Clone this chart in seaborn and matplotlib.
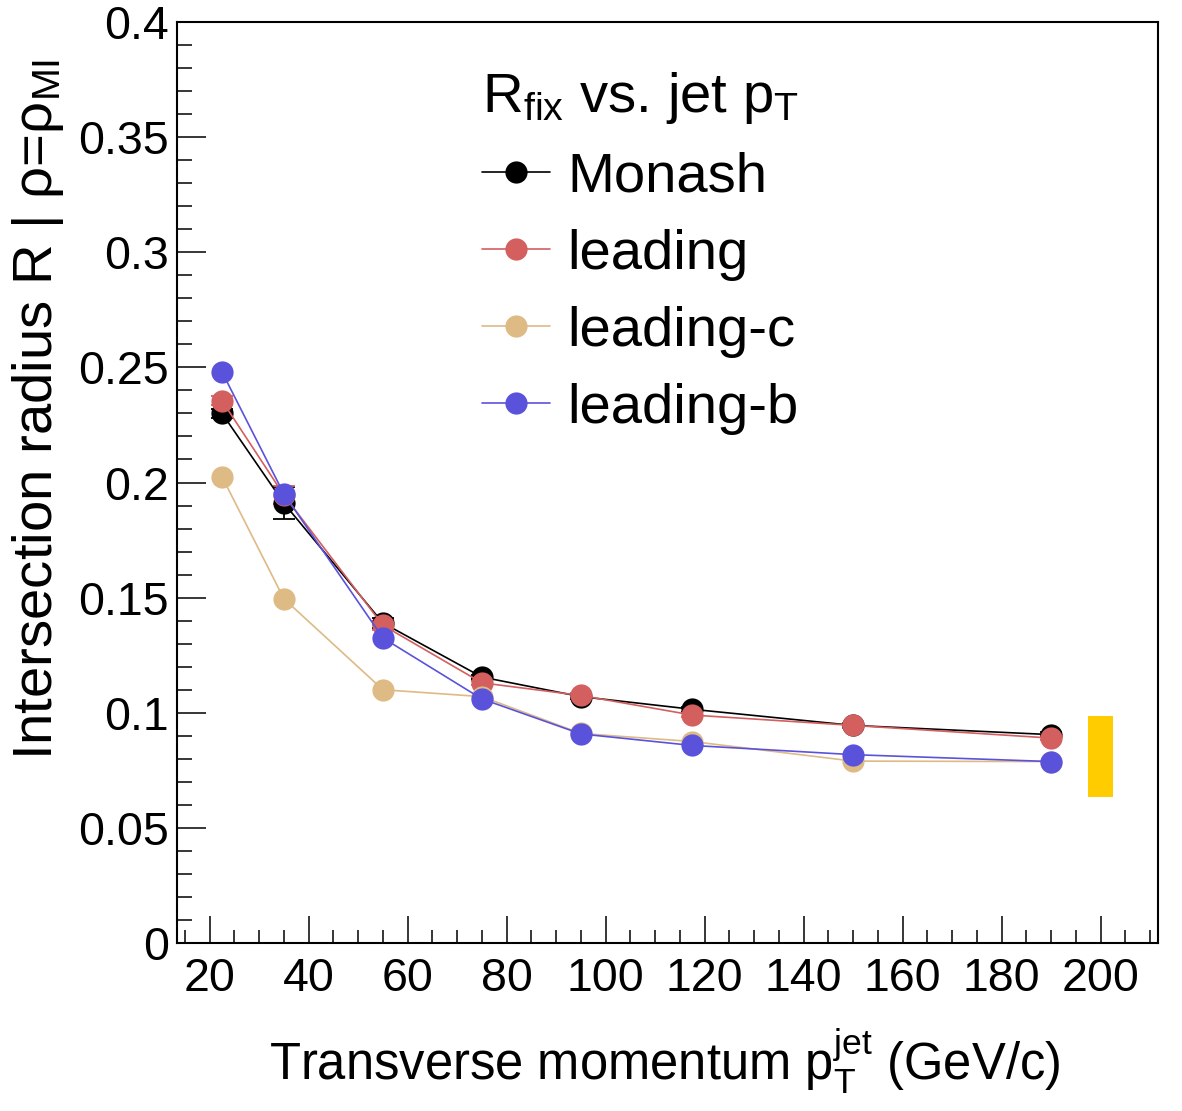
import numpy as np
import pandas as pd
import seaborn as sns
import matplotlib.pyplot as plt
from matplotlib.ticker import MultipleLocator, FuncFormatter

# jet pT bin centres (GeV/c)
pt = [22.5, 35, 55, 75, 95, 117.5, 150, 190]

r_monash = [0.230, 0.191, 0.139, 0.1155, 0.107, 0.1015, 0.0945, 0.0905]
r_leading = [0.2355, 0.1945, 0.138, 0.113, 0.1075, 0.099, 0.0945, 0.089]
r_leading_c = [0.2025, 0.1495, 0.110, 0.107, 0.091, 0.0875, 0.079, 0.0788]
r_leading_b = [0.248, 0.195, 0.1325, 0.106, 0.0908, 0.0858, 0.0818, 0.0788]

err_monash = [0.002, 0.007, 0.002, 0.001, 0.001, 0.001, 0.001, 0.001]
err_leading = [0.002, 0.004, 0.002, 0.001, 0.001, 0.001, 0.001, 0.001]

series = ["Monash", "leading", "leading-c", "leading-b"]
colors = ["#000000", "#D35F5F", "#DEBA85", "#5B52DC"]

# systematic band drawn at the right edge
sys_x = 200
sys_low = 0.0634
sys_high = 0.0986

df = pd.DataFrame({
    "pt": pt * 4,
    "R": r_monash + r_leading + r_leading_c + r_leading_b,
    "tune": sum([[s] * len(pt) for s in series], []),
})

sns.set_theme(style="ticks")
plt.rcParams["font.family"] = ["Liberation Sans", "DejaVu Sans"]
plt.rcParams["mathtext.fontset"] = "custom"
plt.rcParams["mathtext.rm"] = "Liberation Sans"
plt.rcParams["mathtext.it"] = "Liberation Sans:italic"
plt.rcParams["mathtext.bf"] = "Liberation Sans:bold"
plt.rcParams["text.color"] = "black"
plt.rcParams["axes.labelcolor"] = "black"

fig = plt.figure(figsize=(11.82, 11.11), dpi=100)
ax = fig.add_axes([177 / 1182, 1 - 943 / 1111, 981 / 1182, 921 / 1111])

ax.bar(sys_x, sys_high - sys_low, bottom=sys_low, width=5,
       color="#FFCC00", linewidth=0, zorder=1)

ax.errorbar(pt, r_monash, yerr=err_monash, fmt="none", ecolor="black",
            elinewidth=1.3, capsize=8, capthick=1.3, zorder=2)
ax.errorbar(pt, r_leading, yerr=err_leading, fmt="none", ecolor=colors[1],
            elinewidth=1.3, capsize=8, capthick=1.3, zorder=2)

sns.lineplot(data=df, x="pt", y="R", hue="tune", hue_order=series,
             palette=colors, marker="o", markersize=16, markeredgewidth=0,
             linewidth=1.2, ax=ax, zorder=3)

ax.set_xlim(13.4, 211.6)
ax.set_ylim(0, 0.4)

ax.xaxis.set_major_locator(MultipleLocator(20))
ax.xaxis.set_minor_locator(MultipleLocator(5))
ax.yaxis.set_major_locator(MultipleLocator(0.05))
ax.yaxis.set_minor_locator(MultipleLocator(0.01))
ax.yaxis.set_major_formatter(FuncFormatter(lambda v, p: "%g" % round(v, 3)))

ax.tick_params(axis="both", which="both", direction="in", top=False,
               right=False, width=1.1, colors="black", labelsize=33.5)
ax.tick_params(axis="y", which="major", length=21, pad=6)
ax.tick_params(axis="y", which="minor", length=11)
ax.tick_params(axis="x", which="major", length=19.5, pad=10)
ax.tick_params(axis="x", which="minor", length=9.5)
for sp in ax.spines.values():
    sp.set_linewidth(1.5)
    sp.set_color("black")

ax.set_xlabel(r"Transverse momentum p$_{\mathrm{T}}^{\mathrm{jet}}$ (GeV/c)",
              fontsize=36.5, loc="right")
ax.xaxis.set_label_coords(0.9, -0.09)
ax.set_ylabel(r"Intersection radius R | ρ=ρ$_{\mathrm{MI}}$", fontsize=40.5,
              loc="top")
ax.yaxis.set_label_coords(-0.113, 0.96)

handles, labels = ax.get_legend_handles_labels()
leg = ax.legend(handles, labels,
                title=r"R$_{\mathrm{fix}}$ vs. jet p$_{\mathrm{T}}$",
                loc="upper left", bbox_to_anchor=(0.311, 0.948),
                frameon=False, fontsize=40.5, title_fontsize=40.5,
                handlelength=1.21, handletextpad=0.3, labelspacing=0.45,
                borderpad=0, borderaxespad=0, alignment="left")

fig.savefig("out.png", dpi=100, facecolor="white")
